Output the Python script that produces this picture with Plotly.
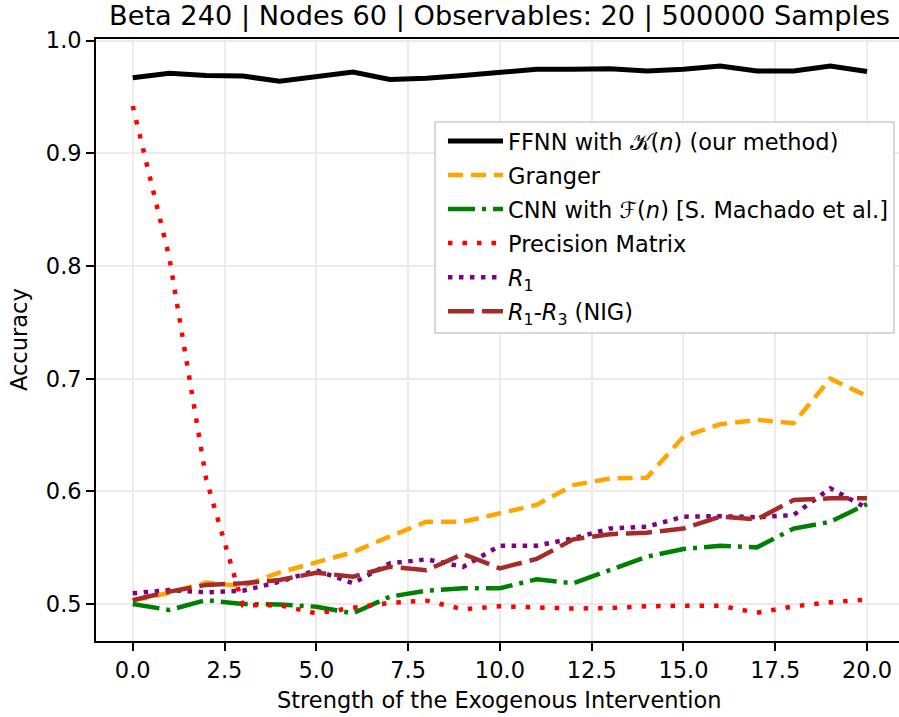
import plotly.graph_objects as go

# Strength of the exogenous intervention (x axis)
strength = list(range(21))

# Accuracy per method
ffnn = [0.967, 0.971, 0.969, 0.9685, 0.964, 0.968, 0.972, 0.9655, 0.9665, 0.969,
        0.972, 0.9745, 0.9745, 0.975, 0.973, 0.9745, 0.9775, 0.973, 0.973, 0.9775, 0.9725]
granger = [0.503, 0.510, 0.519, 0.516, 0.528, 0.537, 0.546, 0.560, 0.573, 0.573,
           0.581, 0.588, 0.6055, 0.6115, 0.612, 0.6485, 0.6595, 0.6635, 0.6605, 0.700, 0.6845]
cnn = [0.500, 0.4947, 0.5035, 0.500, 0.4997, 0.4976, 0.4917, 0.5065, 0.5118, 0.514,
       0.514, 0.522, 0.5184, 0.530, 0.542, 0.5488, 0.5518, 0.5503, 0.567, 0.573, 0.5887]
precision = [0.942, 0.807, 0.611, 0.499, 0.499, 0.4917, 0.4967, 0.501, 0.503, 0.4953,
             0.498, 0.497, 0.496, 0.4965, 0.498, 0.4985, 0.4985, 0.4923, 0.498, 0.5015, 0.504]
r1 = [0.5095, 0.5124, 0.5104, 0.5118, 0.5198, 0.530, 0.5184, 0.536, 0.5397, 0.533,
      0.5518, 0.5518, 0.5583, 0.567, 0.5686, 0.5775, 0.578, 0.577, 0.579, 0.6027, 0.585]
r1_r3 = [0.5035, 0.511, 0.517, 0.5184, 0.5213, 0.5278, 0.5243, 0.533, 0.530, 0.5444,
         0.5317, 0.540, 0.5574, 0.562, 0.5633, 0.567, 0.5775, 0.5752, 0.5923, 0.5938, 0.5938]

x_ticks = [0, 2.5, 5, 7.5, 10, 12.5, 15, 17.5, 20]
x_tick_text = ["0.0", "2.5", "5.0", "7.5", "10.0", "12.5", "15.0", "17.5", "20.0"]
y_ticks = [0.5, 0.6, 0.7, 0.8, 0.9, 1.0]
y_tick_text = ["0.5", "0.6", "0.7", "0.8", "0.9", "1.0"]

FONT = "DejaVu Sans"
LABEL_SIZE = 22.5

series = [
    ("FFNN with \U0001D4A6(<i>n</i>) (our method)", ffnn, "black", "solid", 5),
    ("Granger", granger, "orange", "15px,8px", 4.5),
    ("CNN with \u2131(<i>n</i>) [S. Machado et al.]", cnn, "green", "27px,7px,4px,7px", 4.5),
    ("Precision Matrix", precision, "red", "4.5px,10px", 4.5),
    ("<i>R</i><sub>1</sub>", r1, "purple", "4.5px,6.5px", 4.5),
    ("<i>R</i><sub>1</sub>-<i>R</i><sub>3</sub> (NIG)", r1_r3, "brown", "26px,8px", 4.5),
]

fig = go.Figure()
for name, vals, color, dash, width in series:
    fig.add_trace(go.Scatter(
        x=strength, y=vals, mode="lines", name=name,
        line=dict(color=color, dash=dash, width=width),
        legendgroup=name,
    ))

fig.update_layout(
    width=899, height=717,
    margin=dict(l=96, r=0, t=39, b=76, autoexpand=False),
    paper_bgcolor="white", plot_bgcolor="white",
    font=dict(family=FONT, size=LABEL_SIZE, color="black"),
    showlegend=True,
    legend=dict(
        x=0.4321, y=0.8657, xanchor="left", yanchor="top",
        bgcolor="rgba(0,0,0,0)", borderwidth=0, itemwidth=55,
        font=dict(family=FONT, size=22.5, color="black"),
        tracegroupgap=1.8,
    ),
    xaxis=dict(
        range=[-1.0, 20.87], tickmode="array", tickvals=x_ticks, ticktext=x_tick_text,
        showgrid=True, gridcolor="#ebebeb", gridwidth=1.6,
        showline=True, linecolor="black", linewidth=1.7, mirror=True,
        ticks="outside", ticklen=8, tickwidth=1.7, tickcolor="black",
        tickfont=dict(family=FONT, size=LABEL_SIZE, color="black"), zeroline=False,
    ),
    yaxis=dict(
        range=[0.4672, 1.0014], tickmode="array", tickvals=y_ticks, ticktext=y_tick_text,
        showgrid=True, gridcolor="#ebebeb", gridwidth=1.6,
        showline=True, linecolor="black", linewidth=1.7, mirror=False,
        ticks="outside", ticklen=8, tickwidth=1.7, tickcolor="black",
        tickfont=dict(family=FONT, size=LABEL_SIZE, color="black"), zeroline=False,
    ),
    shapes=[dict(
        type="rect", xref="paper", yref="paper",
        x0=0.4222, x1=0.9938, y0=0.5116, y1=0.8621,
        line=dict(color="#cccccc", width=1.5), fillcolor="white", layer="above",
    )],
    annotations=[
        dict(text="Beta 240 | Nodes 60 | Observables: 20 | 500000 Samples",
             xref="x", yref="paper", x=10, y=1, yshift=5, xanchor="center", yanchor="bottom",
             showarrow=False, font=dict(family=FONT, size=27.2, color="black")),
        dict(text="Strength of the Exogenous Intervention",
             xref="x", yref="paper", x=10, y=0, yshift=-44, xanchor="center", yanchor="top",
             showarrow=False, font=dict(family=FONT, size=LABEL_SIZE, color="black")),
        dict(text="Accuracy", textangle=-90,
             xref="paper", yref="paper", x=0, y=0.5, xshift=-62, xanchor="right", yanchor="middle",
             showarrow=False, font=dict(family=FONT, size=LABEL_SIZE, color="black")),
    ],
)

fig.write_html("out.html")
